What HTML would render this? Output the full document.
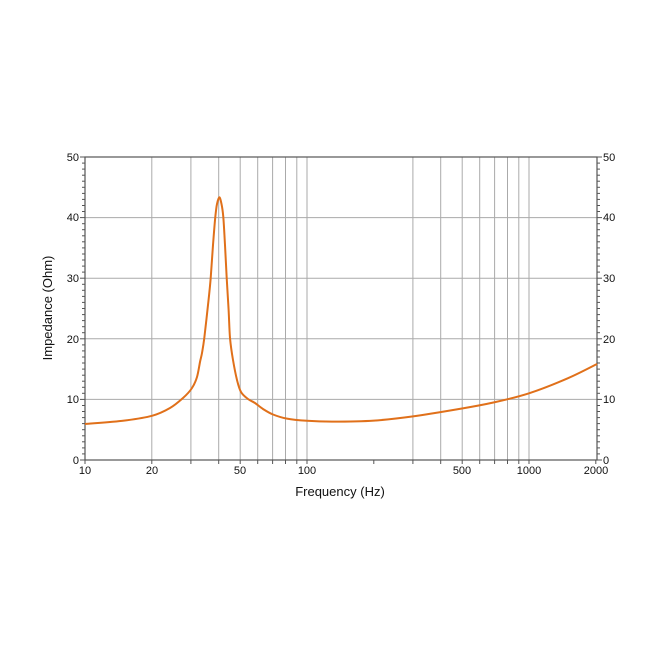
<!DOCTYPE html>
<html><head><meta charset="utf-8"><style>
body{margin:0;background:#fff;}
svg text{font-family:"Liberation Sans",Arial,sans-serif;fill:#111;}
</style></head><body>
<svg id="s" width="650" height="651" xmlns="http://www.w3.org/2000/svg">
<g id="grid"></g>
<rect x="85" y="157" width="512" height="303" fill="none" stroke="#555" stroke-width="1.2"/>
<g font-size="11" text-anchor="end">
<text x="79" y="161">50</text><text x="79" y="221">40</text><text x="79" y="282">30</text>
<text x="79" y="343">20</text><text x="79" y="403">10</text><text x="79" y="464">0</text>
</g>
<g font-size="11" text-anchor="start">
<text x="603" y="161">50</text><text x="603" y="221">40</text><text x="603" y="282">30</text>
<text x="603" y="343">20</text><text x="603" y="403">10</text><text x="603" y="464">0</text>
</g>
<g font-size="11" text-anchor="middle">
<text x="85" y="474">10</text><text x="152" y="474">20</text><text x="240" y="474">50</text>
<text x="307" y="474">100</text><text x="462" y="474">500</text><text x="529" y="474">1000</text>
<text x="596" y="474">2000</text>
</g>
<text x="340" y="496" font-size="13" text-anchor="middle">Frequency (Hz)</text>
<text transform="translate(52,308) rotate(-90)" font-size="13" text-anchor="middle">Impedance (Ohm)</text>
<path id="c" fill="none" stroke="#e0701a" stroke-width="2"/>
</svg>
<script>
var X=f=>85+222*(Math.log10(f)-1), Y=z=>460-z*6.06;
var g=document.getElementById('grid'),h='';
[20,30,40,50,60,70,80,90,100,300,400,500,600,700,800,900,1000].forEach(f=>{var x=X(f).toFixed(1);h+='<line x1="'+x+'" y1="157" x2="'+x+'" y2="460" stroke="#aaa" stroke-width="1"/>';});
[10,20,30,40].forEach(z=>{var y=Y(z).toFixed(1);h+='<line x1="85" y1="'+y+'" x2="597" y2="'+y+'" stroke="#aaa" stroke-width="1"/>';});
for(var z=0;z<=50;z++){var y=Y(z).toFixed(1),l=z%10?3:5;h+='<line x1="'+(85-l)+'" y1="'+y+'" x2="85" y2="'+y+'" stroke="#555"/><line x1="597" y1="'+y+'" x2="'+(597+l)+'" y2="'+y+'" stroke="#555"/>';}
[10,20,30,40,50,60,70,80,90,100,200,300,400,500,600,700,800,900,1000,2000].forEach(f=>{var x=X(f).toFixed(1);h+='<line x1="'+x+'" y1="460" x2="'+x+'" y2="464" stroke="#555"/>';});
g.innerHTML=h;
var P=[[85,424],[124,420.6],[152,415.8],[170,408],[183,398],[192,388],[197,377],[200,362],[202,353],[204.3,338],[208,305],[210.7,278],[213,245],[215.3,217],[217,204],[219.3,197.3],[221.5,204],[223.3,217],[225,245],[226.7,278],[228.5,308],[230,338],[233,360],[237,380],[241,392],[248,399],[255,403],[263,409],[273,414.5],[287,418.6],[307,420.8],[332,421.6],[374,420.6],[413,416.4],[462,408.5],[494,402.4],[529,393.3],[568,378.2],[597,364]];
var p='M'+P[0][0]+','+P[0][1];
for(var i=0;i<P.length-1;i++){var a=P[Math.max(i-1,0)],b=P[i],c=P[i+1],d=P[Math.min(i+2,P.length-1)];
var c1=[b[0]+(c[0]-a[0])/6,b[1]+(c[1]-a[1])/6],c2=[c[0]-(d[0]-b[0])/6,c[1]-(d[1]-b[1])/6];
p+='C'+c1[0].toFixed(1)+','+c1[1].toFixed(1)+' '+c2[0].toFixed(1)+','+c2[1].toFixed(1)+' '+c[0]+','+c[1];}
document.getElementById('c').setAttribute('d',p);
</script>
</body></html>
